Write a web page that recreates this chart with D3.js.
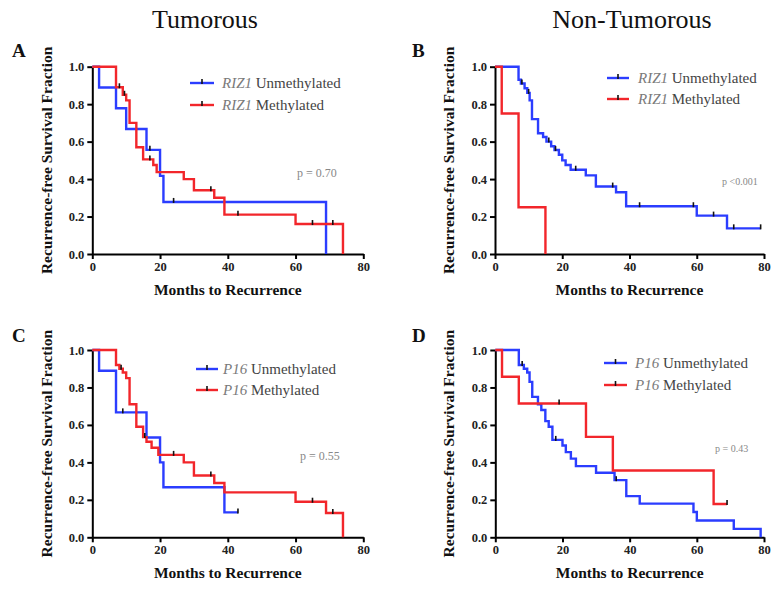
<!DOCTYPE html>
<html>
<head>
<meta charset="utf-8">
<script src="https://cdn.jsdelivr.net/npm/d3@7/dist/d3.min.js"></script>
<style>
  html, body { margin: 0; padding: 0; background: #fff; }
  svg { display: block; }
  svg text { font-family: "Liberation Serif", "Times New Roman", Times, serif !important; }
</style>
</head>
<body>
<svg id="chart" width="782" height="593"></svg>
<script>
// ---------- data ----------
const columnTitles = ["Tumorous", "Non-Tumorous"];
const panelLetters = ["A", "B", "C", "D"];
const geneNames = ["RIZ1", "RIZ1", "P16", "P16"];
const seriesNames = ["Unmethylated", "Methylated"];
const pValues = ["p = 0.70", "p <0.001", "p = 0.55", "p = 0.43"];
const monthTicks = [0, 20, 40, 60, 80];
const fractionTicks = [0.0, 0.2, 0.4, 0.6, 0.8, 1.0];
const xLabel = "Months to Recurrence";
const yLabel = "Recurrence-free Survival Fraction";

// Panel A (Tumorous, RIZ1)
const aUnmethTimes = [0, 2, 7, 10, 16, 20, 21, 69];
const aUnmethSurv  = [1, 0.889, 0.778, 0.667, 0.556, 0.417, 0.278, 0];
const aUnmethCens  = [17, 24];
const aMethTimes = [0, 7, 9, 10, 11, 13, 15, 18, 19, 27, 30, 36, 39, 60, 74];
const aMethSurv  = [1, 0.89, 0.85, 0.82, 0.70, 0.57, 0.505, 0.475, 0.437, 0.40, 0.34, 0.30, 0.21, 0.16, 0];
const aMethCens  = [8, 9.5, 17, 35, 43, 65, 71];

// Panel B (Non-Tumorous, RIZ1)
const bUnmethTimes = [0, 7, 7.7, 8.8, 9.6, 10.3, 11, 12.8, 14.3, 15.3, 16.7, 17.7, 19, 20, 21, 22.5, 27, 30, 36, 39, 60, 69];
const bUnmethSurv  = [1, 0.93, 0.91, 0.885, 0.86, 0.82, 0.72, 0.645, 0.625, 0.60, 0.575, 0.555, 0.53, 0.50, 0.475, 0.45, 0.42, 0.36, 0.33, 0.255, 0.205, 0.137];
const bUnmethCens  = [8, 10, 16, 18, 24, 35, 43, 59, 65, 71, 79];
const bMethTimes = [0, 2, 7, 15];
const bMethSurv  = [1, 0.75, 0.25, 0];
const bMethCens  = [];

// Panel C (Tumorous, P16)
const cUnmethTimes = [0, 2, 7, 16, 20, 21, 39];
const cUnmethSurv  = [1, 0.889, 0.667, 0.533, 0.40, 0.267, 0.133];
const cUnmethCens  = [9, 43];
const cMethTimes = [0, 7, 8, 9, 10, 11, 13, 15, 16, 17.5, 19.5, 27, 30, 36, 39, 60, 69, 74];
const cMethSurv  = [1, 0.92, 0.90, 0.88, 0.85, 0.71, 0.59, 0.535, 0.51, 0.478, 0.44, 0.40, 0.33, 0.29, 0.24, 0.19, 0.13, 0];
const cMethCens  = [8.5, 15.5, 24, 35, 65, 71];

// Panel D (Non-Tumorous, P16)
const dUnmethTimes = [0, 7, 8.5, 9.5, 10.2, 11, 12.7, 13.7, 14.9, 15.9, 17, 20, 21, 22.5, 24, 30, 35.5, 39, 43, 59, 60, 71, 79];
const dUnmethSurv  = [1, 0.92, 0.90, 0.88, 0.83, 0.75, 0.71, 0.68, 0.62, 0.59, 0.52, 0.49, 0.455, 0.42, 0.38, 0.345, 0.305, 0.22, 0.18, 0.135, 0.09, 0.045, 0];
const dUnmethCens  = [8, 18, 36];
const dMethTimes = [0, 2, 7, 27, 35, 65];
const dMethSurv  = [1, 0.857, 0.714, 0.536, 0.357, 0.178];
const dMethCens  = [19, 69];

// ---------- layout / style ----------
const FONT = "'Liberation Serif', 'Times New Roman', Times, serif";
const BLUE = "#2b3dff";
const RED = "#f2262b";
const panels = [
  { x0: 92.3, x1: 363.3, y0: 66.7, y1: 254, letterX: 12, letterY: 57, ylabX: 48,
    legX1: 190, legX2: 214, legTX: 222, legY: [83, 105], pX: 297, pY: 177, pSize: 12,
    unmeth: [aUnmethTimes, aUnmethSurv, aUnmethCens], meth: [aMethTimes, aMethSurv, aMethCens] },
  { x0: 495, x1: 764, y0: 66.7, y1: 254, letterX: 412, letterY: 57, ylabX: 450,
    legX1: 607, legX2: 629, legTX: 638, legY: [78, 99], pX: 722, pY: 185, pSize: 10,
    unmeth: [bUnmethTimes, bUnmethSurv, bUnmethCens], meth: [bMethTimes, bMethSurv, bMethCens] },
  { x0: 92.3, x1: 363.3, y0: 350, y1: 537.3, letterX: 12, letterY: 342, ylabX: 48,
    legX1: 196, legX2: 218, legTX: 223, legY: [369, 390], pX: 300, pY: 460, pSize: 12,
    unmeth: [cUnmethTimes, cUnmethSurv, cUnmethCens], meth: [cMethTimes, cMethSurv, cMethCens] },
  { x0: 495.3, x1: 764, y0: 350, y1: 537.3, letterX: 412, letterY: 342, ylabX: 450,
    legX1: 604, legX2: 627, legTX: 635, legY: [363, 385], pX: 715, pY: 452, pSize: 10,
    unmeth: [dUnmethTimes, dUnmethSurv, dUnmethCens], meth: [dMethTimes, dMethSurv, dMethCens] }
];

const svg = d3.select("#chart").attr("font-family", FONT).style("font-family", FONT);

// column titles
svg.append("text").attr("x", 205).attr("y", 28).attr("text-anchor", "middle")
  .attr("font-size", 26).attr("fill", "#111").text(columnTitles[0]);
svg.append("text").attr("x", 632).attr("y", 28).attr("text-anchor", "middle")
  .attr("font-size", 26).attr("fill", "#111").text(columnTitles[1]);

function survAt(times, surv, t) {
  let s = surv[0];
  for (let i = 0; i < times.length; i++) if (times[i] <= t) s = surv[i];
  return s;
}

panels.forEach((p, i) => {
  const g = svg.append("g");
  const x = d3.scaleLinear().domain([0, 80]).range([p.x0, p.x1]);
  const y = d3.scaleLinear().domain([0, 1]).range([p.y1, p.y0]);

  // axes
  const xAxis = g.append("g").attr("transform", `translate(0,${p.y1})`)
    .call(d3.axisBottom(x).tickValues(monthTicks).tickSize(5).tickSizeOuter(0).tickPadding(3).tickFormat(d3.format("d")));
  const yAxis = g.append("g").attr("transform", `translate(${p.x0},0)`)
    .call(d3.axisLeft(y).tickValues(fractionTicks).tickSize(5).tickSizeOuter(0).tickPadding(3).tickFormat(d3.format(".1f")));
  [xAxis, yAxis].forEach(a => {
    a.attr("font-family", FONT);
    a.select(".domain").attr("stroke", "#000").attr("stroke-width", 2);
    a.selectAll(".tick line").attr("stroke", "#000").attr("stroke-width", 2);
    a.selectAll(".tick text").style("font-family", FONT)
      .attr("font-weight", "bold").attr("font-size", 12.5).attr("fill", "#222");
  });

  // curves
  const line = d3.line().x(d => x(d[0])).y(d => y(d[1])).curve(d3.curveStepAfter);
  [[p.unmeth, BLUE], [p.meth, RED]].forEach(([ser, col]) => {
    const [times, surv, cens] = ser;
    const pts = times.map((t, k) => [t, surv[k]]);
    const lastT = d3.max(cens.length ? cens : [0]);
    if (surv[surv.length - 1] > 0 && lastT > times[times.length - 1]) pts.push([lastT, surv[surv.length - 1]]);
    g.append("path").attr("d", line(pts)).attr("fill", "none")
      .attr("stroke", col).attr("stroke-width", 2.4);
    g.selectAll(null).data(cens).enter().append("line")
      .attr("x1", d => x(d)).attr("x2", d => x(d))
      .attr("y1", d => y(survAt(times, surv, d)) - 4)
      .attr("y2", d => y(survAt(times, surv, d)) + 1)
      .attr("stroke", "#111").attr("stroke-width", 1.6);
  });

  // axis labels
  g.append("text").attr("x", (p.x0 + p.x1) / 2).attr("y", p.y1 + 41).attr("text-anchor", "middle")
    .style("font-family", FONT)
    .attr("font-weight", "bold").attr("font-size", 15.5).attr("fill", "#111").text(xLabel);
  g.append("text").attr("transform", `translate(${p.ylabX},${(p.y0 + p.y1) / 2}) rotate(-90)`)
    .style("font-family", FONT)
    .attr("text-anchor", "middle").attr("dominant-baseline", "middle")
    .attr("font-weight", "bold").attr("font-size", 15.5).attr("fill", "#111").text(yLabel);

  // panel letter
  g.append("text").attr("x", p.letterX).attr("y", p.letterY).attr("font-weight", "bold")
    .style("font-family", FONT)
    .attr("font-size", 19).attr("fill", "#111").text(panelLetters[i]);

  // legend
  [[BLUE, seriesNames[0]], [RED, seriesNames[1]]].forEach(([col, name], k) => {
    const ly = p.legY[k];
    g.append("line").attr("x1", p.legX1).attr("x2", p.legX2).attr("y1", ly).attr("y2", ly)
      .attr("stroke", col).attr("stroke-width", 2.4);
    const mx = (p.legX1 + p.legX2) / 2;
    g.append("line").attr("x1", mx).attr("x2", mx).attr("y1", ly - 4).attr("y2", ly + 1)
      .attr("stroke", "#111").attr("stroke-width", 1.6);
    const t = g.append("text").attr("x", p.legTX).attr("y", ly + 5).attr("font-size", 15)
      .style("font-family", FONT);
    t.append("tspan").attr("font-style", "italic").attr("fill", "#7a7a7a").text(geneNames[i]);
    t.append("tspan").attr("fill", "#444").text(" " + name);
  });

  // p value
  g.append("text").attr("x", p.pX).attr("y", p.pY).attr("font-size", p.pSize)
    .style("font-family", FONT)
    .attr("fill", "#888").text(pValues[i]);
});
</script>
</body>
</html>
